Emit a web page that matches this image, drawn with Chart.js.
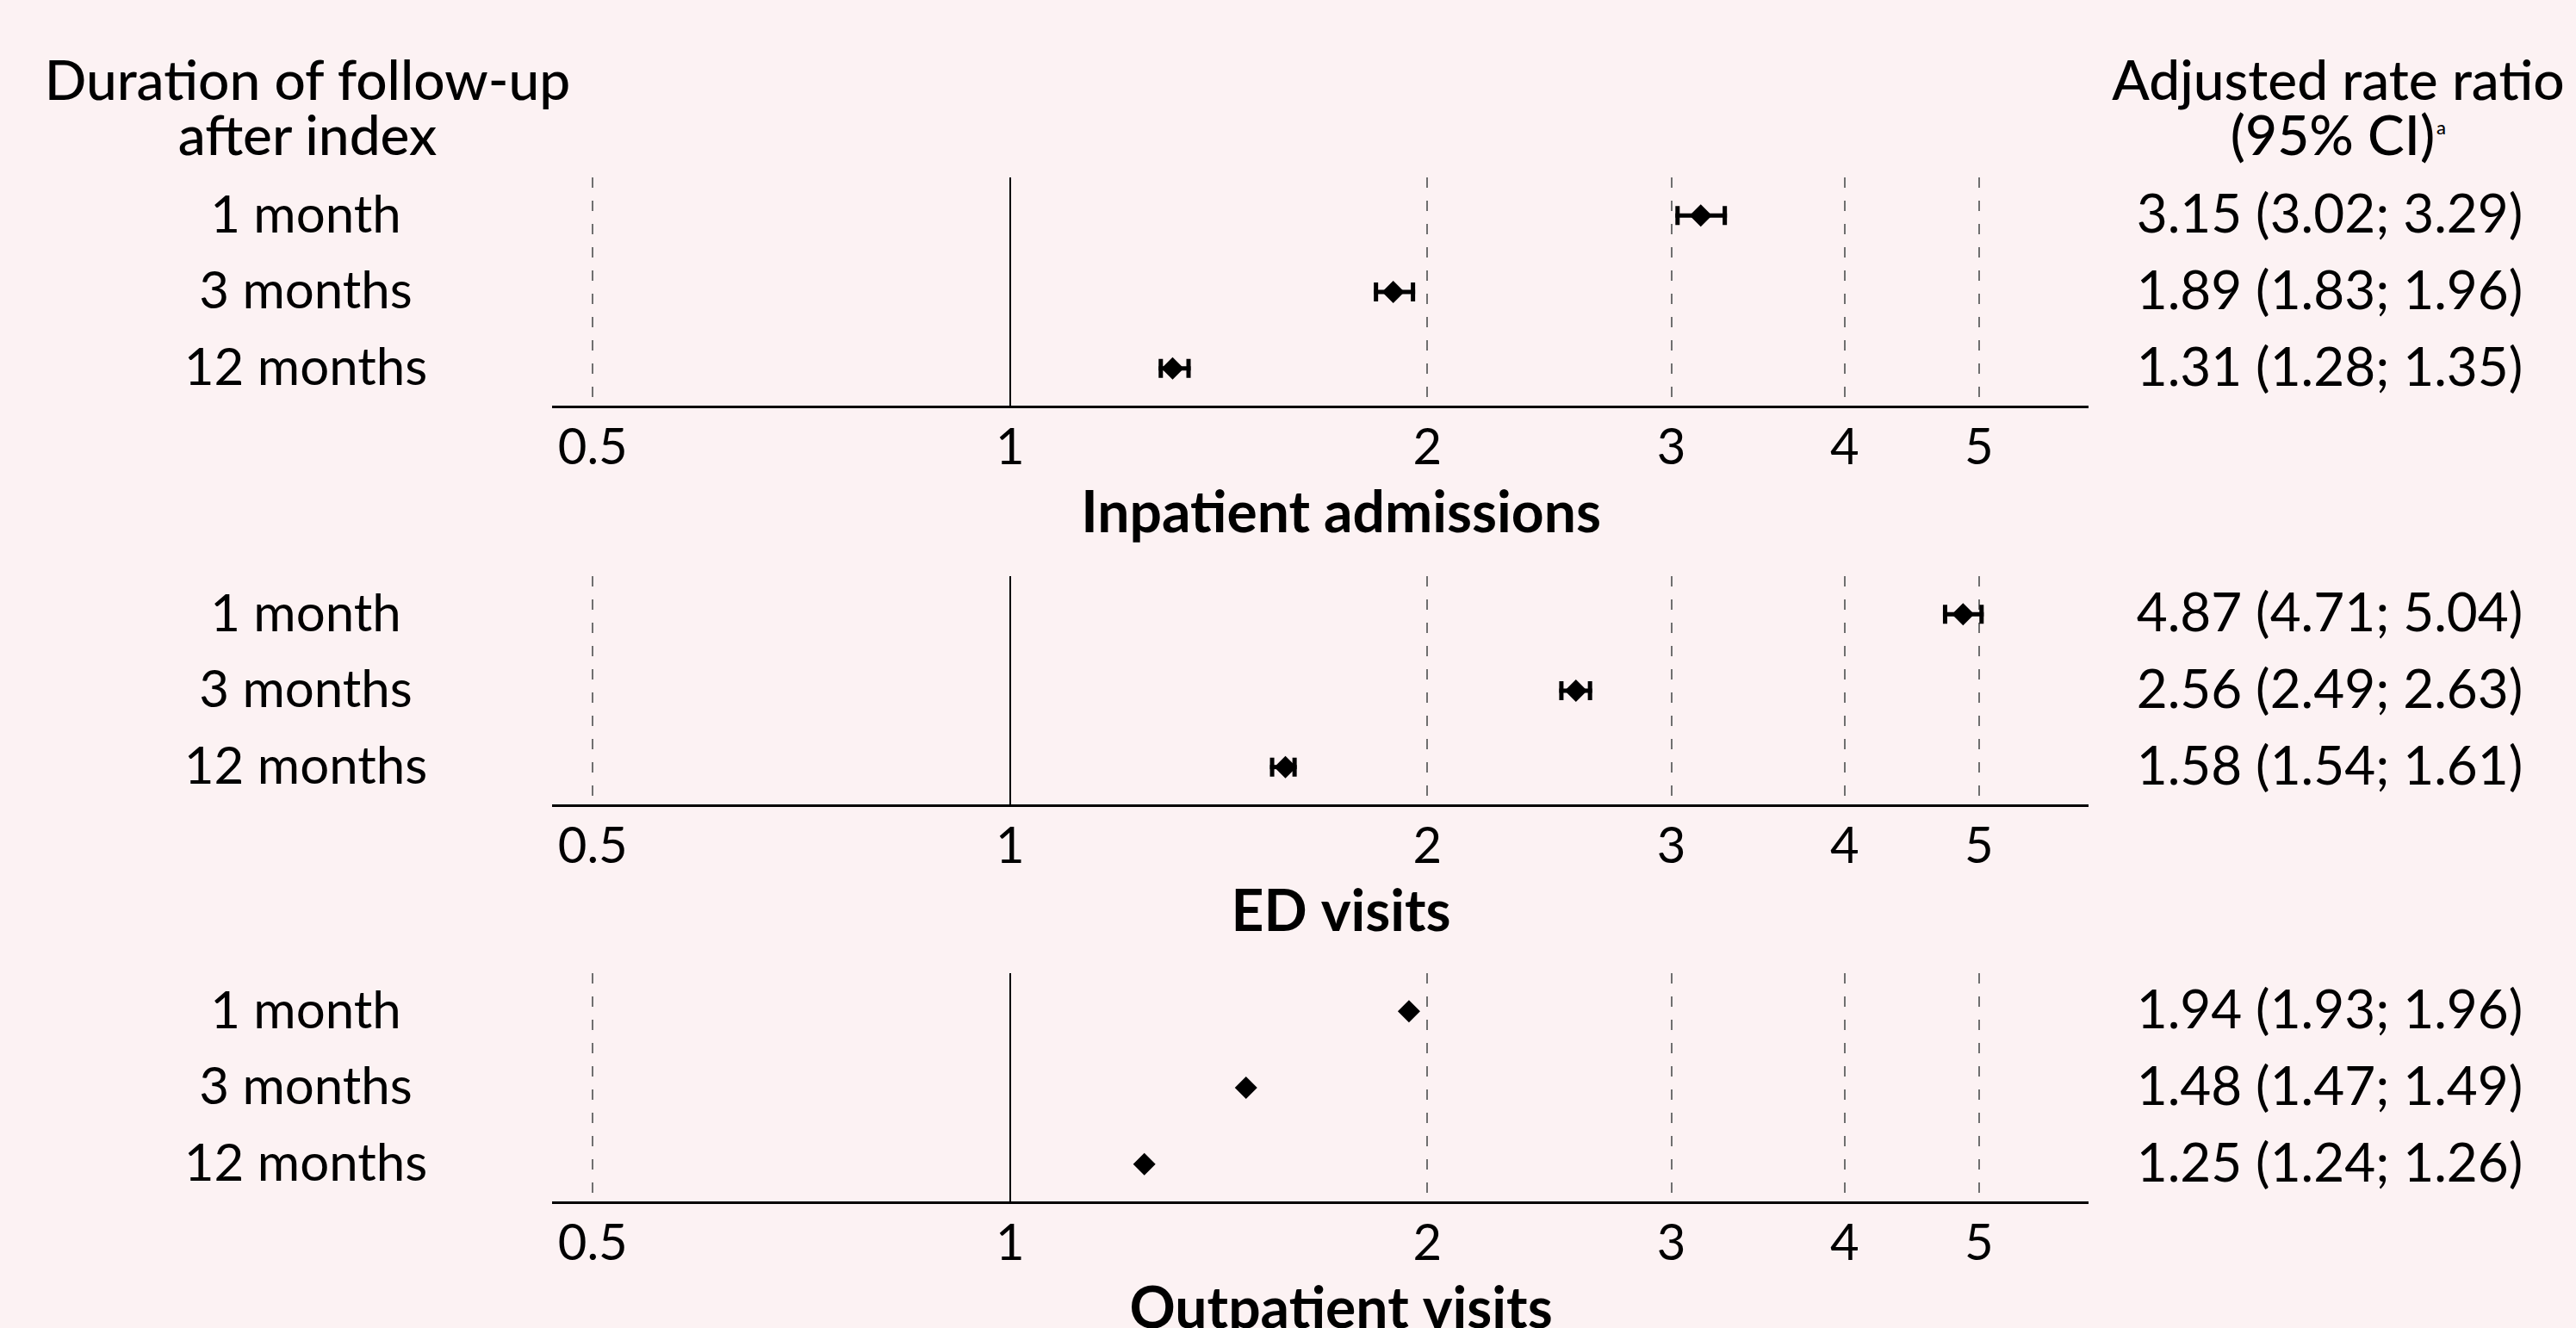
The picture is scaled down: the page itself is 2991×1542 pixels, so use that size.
<!DOCTYPE html>
<html>
<head>
<meta charset="utf-8">
<script src="https://cdn.jsdelivr.net/npm/chart.js@4/dist/chart.umd.min.js"></script>
<style>
html, body { margin: 0; padding: 0; background: #fcf2f3; width: 2991px; height: 1542px; overflow: hidden; font-family: Lato, "Open Sans", sans-serif; color: #000; }
#wrap { position: relative; width: 2991px; height: 1542px; overflow: hidden; }
canvas { position: absolute; left: 0; }
.hdr { position: absolute; font-weight: 500; font-size: 64px; line-height: 64px; text-align: center; white-space: nowrap; transform: translateX(-50%); }
.sup { font-size: 22px; position: relative; top: -24px; margin-left: 2px; }
</style>
</head>
<body>
<div id="wrap">
  <div class="hdr" style="left:357px; top:60px;">Duration of follow-up<br>after index</div>
  <div class="hdr" style="left:2715px; top:60px;">Adjusted rate ratio<br>(95% CI)<span class="sup">a</span></div>
  <canvas id="c0" width="2991" height="463" style="top:186px;"></canvas>
  <canvas id="c1" width="2991" height="463" style="top:649px;"></canvas>
  <canvas id="c2" width="2991" height="463" style="top:1110px;"></canvas>
</div>
<script>
// ---------- data ----------
const rowLabels = ['1 month', '3 months', '12 months'];
const panelTitles = ['Inpatient admissions', 'ED visits', 'Outpatient visits'];
const xTickValues = [0.5, 1, 2, 3, 4, 5];
const xMin = 0.468;
const xMax = 5.99;

const inpatientEst  = [3.15, 1.89, 1.31];
const inpatientLow  = [3.02, 1.83, 1.28];
const inpatientHigh = [3.29, 1.96, 1.35];

const edEst  = [4.87, 2.56, 1.58];
const edLow  = [4.71, 2.49, 1.54];
const edHigh = [5.04, 2.63, 1.61];

const outpatientEst  = [1.94, 1.48, 1.25];
const outpatientLow  = [1.93, 1.47, 1.24];
const outpatientHigh = [1.96, 1.49, 1.26];

// ---------- styles ----------
const FAMILY = 'Lato';
const tickFont  = { family: FAMILY, size: 58, weight: 400 };
const rowFont   = { family: FAMILY, size: 60, weight: 400 };
const valueFont = { family: FAMILY, size: 62, weight: 400 };
const titleFont = { family: FAMILY, size: 66, weight: 'bold' };
const GRID_GRAY = '#6f6f6f';

function fontString(f) { return f.weight + ' ' + f.size + 'px ' + f.family; }
function widest(labels, f) {
  const c = document.createElement('canvas').getContext('2d');
  c.font = fontString(f);
  return Math.max.apply(null, labels.map(l => c.measureText(l).width));
}
function ciLabel(e, l, h) { return e.toFixed(2) + ' (' + l.toFixed(2) + '; ' + h.toFixed(2) + ')'; }

const LEFT_W = 642, RIGHT_W = 567;
const LEFT_CENTER = 355, RIGHT_CENTER = 2705;

const errorBars = {
  id: 'errorBars',
  beforeDatasetsDraw(chart, args, opts) {
    const { ctx, scales } = chart;
    const xs = scales.x, ys = scales.y;
    ctx.save();
    ctx.strokeStyle = '#000';
    ctx.lineCap = 'butt';
    for (let i = 0; i < opts.lower.length; i++) {
      const x1 = xs.getPixelForValue(opts.lower[i]);
      const x2 = xs.getPixelForValue(opts.upper[i]);
      const y = ys.getPixelForValue(i);
      if (x2 - x1 < 2 * opts.markerRadius) continue; // hidden behind the marker
      ctx.lineWidth = 5;
      ctx.beginPath(); ctx.moveTo(x1, y); ctx.lineTo(x2, y); ctx.stroke();
      ctx.beginPath();
      ctx.moveTo(x1 + 2.5, y - 11); ctx.lineTo(x1 + 2.5, y + 11);
      ctx.moveTo(x2 - 2.5, y - 11); ctx.lineTo(x2 - 2.5, y + 11);
      ctx.stroke();
    }
    ctx.restore();
  }
};

const panels = [
  { id: 'c0', title: panelTitles[0], est: inpatientEst, lo: inpatientLow, hi: inpatientHigh },
  { id: 'c1', title: panelTitles[1], est: edEst, lo: edLow, hi: edHigh },
  { id: 'c2', title: panelTitles[2], est: outpatientEst, lo: outpatientLow, hi: outpatientHigh }
];

const leftPad = LEFT_W - LEFT_CENTER - widest(rowLabels, rowFont) / 2;
const noVerticalPadding = s => { s.paddingTop = 0; s.paddingBottom = 0; };

panels.forEach(p => {
  const ci = p.est.map((e, i) => ciLabel(e, p.lo[i], p.hi[i]));
  const rightPad = RIGHT_CENTER - (2991 - RIGHT_W) - widest(ci, valueFont) / 2;
  new Chart(document.getElementById(p.id), {
    type: 'scatter',
    data: {
      datasets: [{
        data: p.est.map((v, i) => ({ x: v, y: rowLabels[i] })),
        xAxisID: 'x', yAxisID: 'y',
        pointStyle: 'rectRot',
        pointRadius: 13,
        pointHoverRadius: 13,
        backgroundColor: '#000',
        borderColor: '#000',
        borderWidth: 0
      }]
    },
    options: {
      responsive: false,
      animation: false,
      events: [],
      layout: { padding: { top: 20, left: 0, right: 0, bottom: 0 } },
      plugins: {
        legend: { display: false },
        tooltip: { enabled: false },
        errorBars: { lower: p.lo, upper: p.hi, markerRadius: 13 }
      },
      scales: {
        x: {
          type: 'logarithmic',
          position: 'bottom',
          min: xMin, max: xMax,
          afterBuildTicks: s => { s.ticks = xTickValues.map(v => ({ value: v })); },
          afterFit: s => { s.height = 177; },
          ticks: {
            font: tickFont, color: '#000', padding: 13, autoSkip: false, maxRotation: 0,
            callback: v => String(v)
          },
          grid: {
            drawTicks: false,
            lineWidth: 2,
            color: c => (c.tick && c.tick.value === 1) ? '#000' : GRID_GRAY
          },
          border: {
            display: true, color: '#000', width: 3,
            dash: c => (c.tick && c.tick.value !== 1) ? [12, 15] : []
          },
          title: {
            display: true, text: '   ' + p.title, font: titleFont, color: '#000',
            padding: { top: 0, bottom: 13 }
          }
        },
        y: {
          type: 'category',
          position: 'left',
          labels: rowLabels,
          offset: true,
          afterFit: s => { s.width = LEFT_W; noVerticalPadding(s); },
          ticks: { font: rowFont, color: '#000', crossAlign: 'center', padding: leftPad, autoSkip: false },
          grid: { display: false, drawTicks: false },
          border: { display: false }
        },
        y2: {
          type: 'category',
          position: 'right',
          display: true,
          labels: ci,
          offset: true,
          afterFit: s => { s.width = RIGHT_W; noVerticalPadding(s); },
          ticks: { font: valueFont, color: '#000', crossAlign: 'center', padding: rightPad, autoSkip: false },
          grid: { display: false, drawTicks: false },
          border: { display: false }
        }
      }
    },
    plugins: [errorBars]
  });
});
</script>
</body>
</html>
